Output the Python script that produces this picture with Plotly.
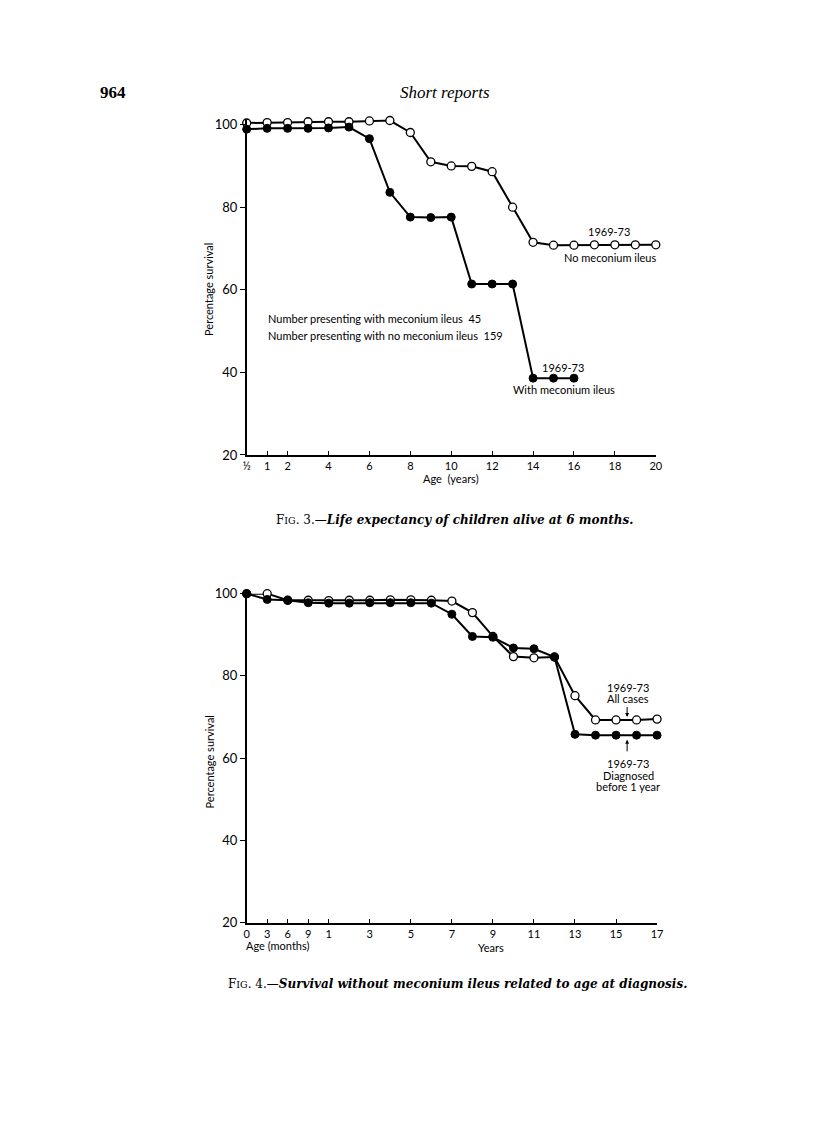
import plotly.graph_objects as go

# ---------------- Data ----------------
# Fig 3: ages in years (first point is 1/2 year, drawn at the axis origin)
fig3_ages = [0.5, 1, 2, 3, 4, 5, 6, 7, 8, 9, 10, 11, 12, 13, 14, 15, 16, 17, 18, 19, 20]
fig3_no_mi = [100.4, 100.5, 100.5, 100.7, 100.7, 100.7, 100.9, 101.0, 98.1, 91.0, 90.0,
              89.9, 88.6, 80.0, 71.5, 70.8, 70.8, 70.9, 70.9, 70.9, 70.9]
fig3_mi_ages = [0.5, 1, 2, 3, 4, 5, 6, 7, 8, 9, 10, 11, 12, 13, 14, 15, 16]
fig3_mi = [98.9, 99.1, 99.1, 99.1, 99.2, 99.4, 96.6, 83.6, 77.6, 77.5, 77.6,
           61.4, 61.4, 61.4, 38.6, 38.6, 38.6]
fig3_tickvals = [0, 1, 2, 4, 6, 8, 10, 12, 14, 16, 18, 20]
fig3_ticktext = ["½", "1", "2", "4", "6", "8", "10", "12", "14", "16", "18", "20"]

# Fig 4: age scale positions (0,3,6,9 months, then 1..17 years)
fig4_age_labels = ["0 m", "3 m", "6 m", "9 m"] + [f"{y} y" for y in range(1, 18)]
fig4_all_cases = [100, 100, 98.4, 98.4, 98.3, 98.4, 98.4, 98.5, 98.5, 98.4, 98.2,
                  95.4, 89.6, 84.7, 84.4, 84.6, 75.2, 69.3, 69.3, 69.3, 69.5]
fig4_diag_before1 = [100, 98.6, 98.4, 97.8, 97.7, 97.7, 97.8, 97.8, 97.8, 97.7, 95.0,
                     89.6, 89.4, 86.8, 86.6, 84.6, 65.8, 65.6, 65.6, 65.6, 65.6]
fig4_tickvals = [0, 1, 2, 3, 4, 6, 8, 10, 12, 14, 16, 18, 20]
fig4_ticktext = ["0", "3", "6", "9", "1", "3", "5", "7", "9", "11", "13", "15", "17"]

y_ticks = [20, 40, 60, 80, 100]


def pos3(a):
    return 0 if a == 0.5 else a


def pos4(label):
    n, unit = label.split()
    n = int(n)
    return n / 3 if unit == "m" else n + 3


W, H = 816, 1141
SANS = "Lato, DejaVu Sans, sans-serif"
YTICKFONT = dict(family=SANS, size=13, color="black")
XTICKFONT = dict(family=SANS, size=11, color="black")
TXT = dict(family=SANS, size=11, color="black")
SERIF = "Liberation Serif, DejaVu Serif, serif"
CAPSERIF = "DejaVu Serif, Liberation Serif, serif"

fig = go.Figure()

line = dict(color="black", width=2)
open_m = dict(symbol="circle", size=8, color="white", line=dict(color="black", width=1.3))
fill_m = dict(symbol="circle", size=8, color="black", line=dict(color="black", width=1))

fig.add_trace(go.Scatter(x=[pos3(a) for a in fig3_ages], y=fig3_no_mi, mode="lines+markers",
                         line=line, marker=open_m, xaxis="x", yaxis="y", cliponaxis=False))
fig.add_trace(go.Scatter(x=[pos3(a) for a in fig3_mi_ages], y=fig3_mi, mode="lines+markers",
                         line=line, marker=fill_m, xaxis="x", yaxis="y", cliponaxis=False))

x4 = [pos4(l) for l in fig4_age_labels]
fig.add_trace(go.Scatter(x=x4, y=fig4_all_cases, mode="lines+markers",
                         line=line, marker=open_m, xaxis="x2", yaxis="y2", cliponaxis=False))
fig.add_trace(go.Scatter(x=x4, y=fig4_diag_before1, mode="lines+markers",
                         line=line, marker=fill_m, xaxis="x2", yaxis="y2", cliponaxis=False))

axis_common = dict(showline=True, linecolor="black", linewidth=1.5, showgrid=False,
                   zeroline=False, tickcolor="black")

PX_PER_UNIT_TOP = (453.3 - 118.3) / 80.0
TOP_MAX = 101.3

fig.update_layout(
    width=W, height=H, margin=dict(l=0, r=0, t=0, b=0),
    paper_bgcolor="white", plot_bgcolor="white", showlegend=False,
    xaxis=dict(domain=[246 / W, 660.7 / W], range=[0, 20], anchor="y",
               tickmode="array", tickvals=fig3_tickvals, ticktext=fig3_ticktext,
               ticks="inside", ticklen=4, tickfont=XTICKFONT, **axis_common),
    yaxis=dict(domain=[1 - 453.3 / H, 1 - (118.3 - (TOP_MAX - 100) * PX_PER_UNIT_TOP) / H],
               range=[20, TOP_MAX], anchor="x",
               tickmode="array", tickvals=y_ticks, ticks="outside", ticklen=5,
               tickfont=YTICKFONT, **axis_common),
    xaxis2=dict(domain=[246 / W, 662 / W], range=[0, 20], anchor="y2",
                tickmode="array", tickvals=fig4_tickvals, ticktext=fig4_ticktext,
                ticks="inside", ticklen=4, tickfont=XTICKFONT, **axis_common),
    yaxis2=dict(domain=[1 - 927.7 / H, 1 - 594 / H], range=[20, 100], anchor="x2",
                tickmode="array", tickvals=y_ticks, ticks="outside", ticklen=5,
                tickfont=YTICKFONT, **axis_common),
)


def ptxt(text, x, y, font, **kw):
    d = dict(text=text, xref="paper", yref="paper", x=x / W, y=1 - y / H,
             xanchor="center", yanchor="middle", showarrow=False, font=font)
    d.update(kw)
    return d


def dtxt(text, x, y, xr, yr, font=TXT, **kw):
    d = dict(text=text, xref=xr, yref=yr, x=x, y=y, xanchor="center", yanchor="middle",
             showarrow=False, font=font)
    d.update(kw)
    return d


ann = []
# Header
ann.append(ptxt("<b>964</b>", 110, 86, dict(family=SERIF, size=17, color="black")))
ann.append(ptxt("<i>Short reports</i>", 447, 86, dict(family=SERIF, size=17, color="black")))

# Fig 3 labels
ann.append(dtxt("1969-73", 17.73, 74.0, "x", "y"))
ann.append(dtxt("No meconium ileus", 17.78, 67.8, "x", "y"))
ann.append(dtxt("Number presenting with meconium ileus  45", 0.92, 53.0, "x", "y", xanchor="left"))
ann.append(dtxt("Number presenting with no meconium ileus  159", 0.92, 49.0, "x", "y", xanchor="left"))
ann.append(dtxt("1969-73", 15.46, 41.3, "x", "y"))
ann.append(dtxt("With meconium ileus", 15.5, 35.8, "x", "y"))
ann.append(dict(text="Age  (years)", xref="x", yref="paper", x=10.0, y=1 - 477.5 / H,
                xanchor="center", yanchor="middle", showarrow=False, font=TXT))
ann.append(dict(text="Percentage survival", xref="paper", yref="paper", x=208 / W,
                y=1 - 285.8 / H, xanchor="center", yanchor="middle",
                textangle=-90, showarrow=False, font=TXT))
ann.append(ptxt("F<span style='font-size:9.5px'>IG</span>. 3.—<b><i>Life expectancy of children alive at 6 months.</i></b>",
                457, 519, dict(family=CAPSERIF, size=12, color="black")))

# Fig 4 labels
ann.append(dtxt("1969-73", 18.6, 77.2, "x2", "y2"))
ann.append(dtxt("All cases", 18.6, 74.6, "x2", "y2"))
ann.append(dict(text="", xref="x2", yref="y2", x=18.54, y=70.0, axref="x2", ayref="y2",
                ax=18.54, ay=72.8, showarrow=True, arrowhead=2, arrowsize=0.8, arrowwidth=1,
                arrowcolor="black"))
ann.append(dict(text="", xref="x2", yref="y2", x=18.54, y=64.5, axref="x2", ayref="y2",
                ax=18.54, ay=61.3, showarrow=True, arrowhead=2, arrowsize=0.8, arrowwidth=1,
                arrowcolor="black"))
ann.append(dtxt("1969-73", 18.6, 58.6, "x2", "y2"))
ann.append(dtxt("Diagnosed", 18.6, 55.8, "x2", "y2"))
ann.append(dtxt("before 1 year", 18.6, 53.1, "x2", "y2"))
ann.append(ptxt("Age (months)", 243, 951, TXT, xanchor="left"))
ann.append(dict(text="Years", xref="x2", yref="paper", x=11.9, y=1 - 953 / H,
                xanchor="center", yanchor="middle", showarrow=False, font=TXT))
ann.append(dict(text="Percentage survival", xref="paper", yref="paper", x=208 / W,
                y=1 - 765 / H, xanchor="center", yanchor="middle",
                textangle=-90, showarrow=False, font=TXT))
ann.append(ptxt("F<span style='font-size:9.5px'>IG</span>. 4.—<b><i>Survival without meconium ileus related to age at diagnosis.</i></b>",
                460, 990, dict(family=CAPSERIF, size=12, color="black")))

fig.update_layout(annotations=ann)
fig.write_html(
    "out.html",
    config={"displayModeBar": False},
    post_script="document.body.style.margin='0';document.body.style.padding='0';"
                "document.documentElement.style.overflow='hidden';",
)
